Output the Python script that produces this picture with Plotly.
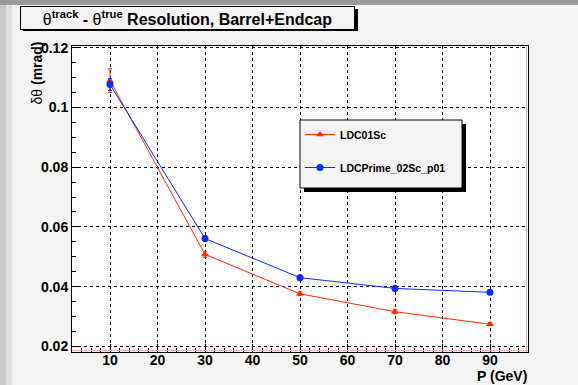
import plotly.graph_objects as go

momentum = [10, 30, 50, 70, 90]
ldc01_res = [0.1090, 0.0508, 0.0376, 0.0316, 0.0274]
ldc01_err = [0.0040, 0.0010, 0.0006, 0.0007, 0.0005]
ldcprime_res = [0.1077, 0.0561, 0.0430, 0.0394, 0.0381]
ldcprime_err = [0.0020, 0.0010, 0.0008, 0.0009, 0.0008]
x_ticks = [10, 20, 30, 40, 50, 60, 70, 80, 90]
y_ticks = [0.02, 0.04, 0.06, 0.08, 0.1, 0.12]
y_tick_labels = ["0.02", "0.04", "0.06", "0.08", "0.1", "0.12"]

FONT = "Liberation Sans"
RED = "#ff2a00"
BLUE = "#0a2aff"

# plot area in pixels
L, R, T, B = 72, 528, 46, 352
PW, PH = R - L, B - T


def px(x):
    return (x - L) / PW


def py(y):
    return (B - y) / PH


fig = go.Figure()
fig.add_trace(go.Scatter(
    x=momentum, y=ldc01_res, name="<b>LDC01Sc</b>", legendgroup="a",
    mode="lines+markers",
    line=dict(color=RED, width=1),
    marker=dict(symbol="triangle-up", size=7, color=RED),
    error_y=dict(type="data", array=ldc01_err, color=RED, thickness=1, width=2),
))
fig.add_trace(go.Scatter(
    x=momentum, y=ldcprime_res, name="<b>LDCPrime_02Sc_p01</b>", legendgroup="b",
    mode="lines+markers",
    line=dict(color=BLUE, width=1),
    marker=dict(symbol="circle", size=7, color=BLUE),
    error_y=dict(type="data", array=ldcprime_err, color=BLUE, thickness=1, width=2),
))

axis_common = dict(
    showline=True, linecolor="black", linewidth=1, mirror=True,
    ticks="inside", ticklen=8, tickcolor="black",
    showgrid=True, gridcolor="black", griddash="dot", gridwidth=1,
    zeroline=False,
    tickfont=dict(family=FONT, size=14, color="black", weight="bold"),
)

fig.update_xaxes(range=[2, 98], tickvals=x_ticks, ticklabelstandoff=-5,
                 minor=dict(ticks="inside", ticklen=4, tickcolor="black", dtick=2, showgrid=False),
                 **axis_common)
fig.update_yaxes(range=[0.0181, 0.1206], tickvals=y_ticks, ticktext=y_tick_labels,
                 minor=dict(ticks="inside", ticklen=4, tickcolor="black", dtick=0.005, showgrid=False),
                 **axis_common)

fig.update_layout(
    width=578, height=385,
    margin=dict(l=L, r=578 - R, t=T, b=385 - B),
    paper_bgcolor="#f4f4f4", plot_bgcolor="white",
    showlegend=True,
    legend=dict(x=px(300), y=py(120), xanchor="left", yanchor="top",
                bgcolor="rgba(0,0,0,0)", borderwidth=0,
                font=dict(family=FONT, size=10.5, color="black"),
                tracegroupgap=14, itemwidth=30),
    shapes=[
        # left paper shading
        dict(type="rect", xref="paper", yref="paper", x0=px(0), x1=px(6),
             y0=py(385), y1=py(0), fillcolor="#c8c8c8", line_width=0, layer="below"),
        dict(type="rect", xref="paper", yref="paper", x0=px(6), x1=px(12),
             y0=py(385), y1=py(0), fillcolor="#e0e0e0", line_width=0, layer="below"),
        # top paper shading
        dict(type="rect", xref="paper", yref="paper", x0=px(0), x1=px(578),
             y0=py(5), y1=py(0), fillcolor="#9a9a9a", line_width=0, layer="below"),
        # faint red inner edge of frame
        dict(type="line", xref="paper", yref="paper", x0=px(R - 1.5), x1=px(R - 1.5), y0=0, y1=1,
             line=dict(color="#f4b0a0", width=1)),
        dict(type="line", xref="paper", yref="paper", x0=0, x1=1, y0=py(B - 1.5), y1=py(B - 1.5),
             line=dict(color="#f4b0a0", width=1)),
        # legend shadow and box
        dict(type="rect", xref="paper", yref="paper",
             x0=px(304), x1=px(466), y0=py(192), y1=py(124),
             fillcolor="black", line_width=0),
        dict(type="rect", xref="paper", yref="paper",
             x0=px(300), x1=px(462), y0=py(188), y1=py(120),
             fillcolor="#f4f4f4", line=dict(color="black", width=1)),
        # title shadow
        dict(type="rect", xref="paper", yref="paper",
             x0=px(23), x1=px(358), y0=py(31), y1=py(9),
             fillcolor="black", line_width=0),
    ],
    annotations=[
        dict(text="θ<sup><b>track</b></sup><b> - </b>θ<sup><b>true</b></sup><b> Resolution, Barrel+Endcap</b>",
             xref="paper", yref="paper", x=px(20), y=py(6),
             xanchor="left", yanchor="top", showarrow=False, align="center",
             font=dict(family=FONT, size=16, color="black"),
             bgcolor="#f4f4f4", bordercolor="black", borderwidth=1, borderpad=1,
             width=331, height=20),
        dict(text="δθ <b>(mrad)</b>", xref="paper", yref="paper",
             x=px(36), y=py(40),
             xanchor="center", yanchor="top", textangle=-90, showarrow=False,
             font=dict(family=FONT, size=14, color="black")),
        dict(text="<b>P (GeV)</b>", xref="paper", yref="paper",
             x=px(529), y=py(376), xanchor="right", yanchor="middle", showarrow=False,
             font=dict(family=FONT, size=14, color="black")),
    ],
)

fig.write_html("out.html", config={"displayModeBar": False},
               post_script="document.body.style.margin='0';")
